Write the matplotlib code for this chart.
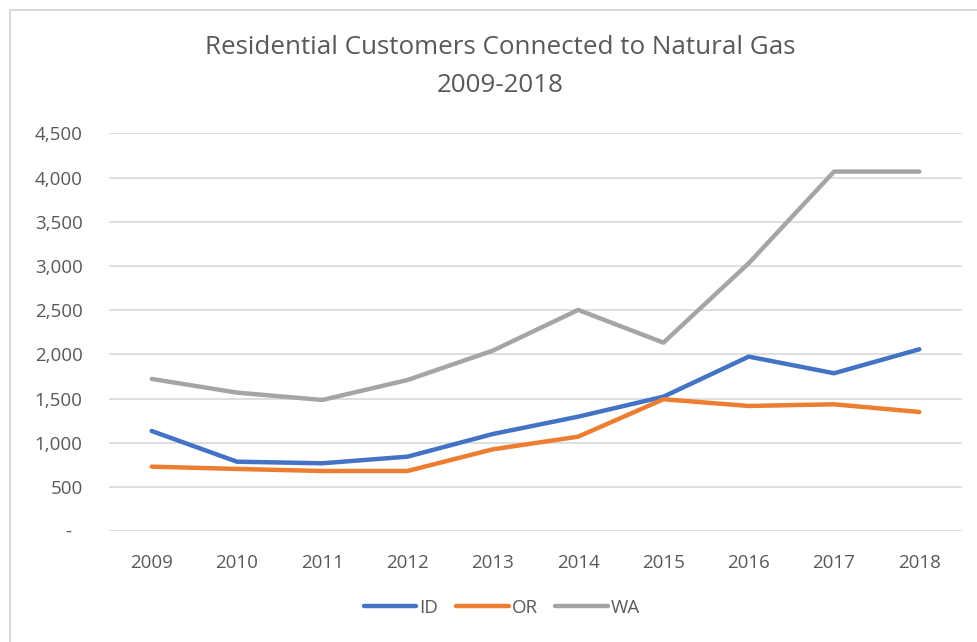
import matplotlib
matplotlib.use("Agg")
import matplotlib.pyplot as plt
from matplotlib.lines import Line2D
from matplotlib.ticker import FuncFormatter

# data
years = ["2009", "2010", "2011", "2012", "2013", "2014", "2015", "2016", "2017", "2018"]
id_vals = [1134, 787, 769, 844, 1100, 1296, 1522, 1975, 1787, 2058]
or_vals = [731, 705, 682, 682, 927, 1070, 1493, 1417, 1436, 1349]
wa_vals = [1723, 1568, 1485, 1711, 2043, 2503, 2133, 3031, 4067, 4067]

TEXT = "#595959"
plt.rcParams['font.family'] = ['Open Sans', 'DejaVu Sans']

fig = plt.figure(figsize=(9.77, 6.42), dpi=100)
ax = fig.add_axes([109/977, 1 - 531.3/642, (962 - 109)/977, (531.3 - 133.3)/642])

x = range(len(years))
ax.plot(x, id_vals, color="#4472C4", lw=3.2, label="ID", solid_capstyle="round", solid_joinstyle="round")
ax.plot(x, or_vals, color="#ED7D31", lw=3.2, label="OR", solid_capstyle="round", solid_joinstyle="round")
ax.plot(x, wa_vals, color="#A5A5A5", lw=3.2, label="WA", solid_capstyle="round", solid_joinstyle="round")

ax.set_xlim(-0.5, len(years) - 0.5)
ax.set_ylim(0, 4500)
ax.set_yticks(range(0, 4501, 500))
# zero is shown as a dash (accounting format), drawn separately below
ax.yaxis.set_major_formatter(FuncFormatter(lambda v, p: "" if v == 0 else f"{int(v):,}"))
ax.set_xticks(list(x))
ax.set_xticklabels(years)

ax.grid(axis="y", color="#D9D9D9", lw=1.2)
ax.set_axisbelow(True)
for s in ax.spines.values():
    s.set_visible(False)
ax.tick_params(axis="both", length=0, labelsize=13.5, labelcolor=TEXT)
ax.tick_params(axis="y", pad=19)
ax.tick_params(axis="x", pad=16)
ax.annotate("-", xy=(0, 0), xycoords=ax.get_yaxis_transform(), xytext=(-27, 0),
            textcoords="offset points", ha="right", va="center", fontsize=13.5, color=TEXT)

fig.text(500/977, 1 - 48/642, "Residential Customers Connected to Natural Gas",
         ha="center", va="center", fontsize=18.7, color=TEXT)
fig.text(500/977, 1 - 85/642, "2009-2018", ha="center", va="center", fontsize=18.7, color=TEXT)

leg = fig.legend(loc="center", bbox_to_anchor=(502/977, 1 - 608/642), ncol=3, frameon=False,
                 fontsize=13.5, handlelength=2.8, handletextpad=0.16, columnspacing=0.95)
for t in leg.get_texts():
    t.set_color(TEXT)

# chart border (top and left edges visible)
fig.add_artist(Line2D([10/977, 1], [1 - 10/642, 1 - 10/642], color="#D9D9D9", lw=1.5))
fig.add_artist(Line2D([10/977, 10/977], [0, 1 - 10/642], color="#D9D9D9", lw=1.5))

fig.savefig("out.png", dpi=100)
